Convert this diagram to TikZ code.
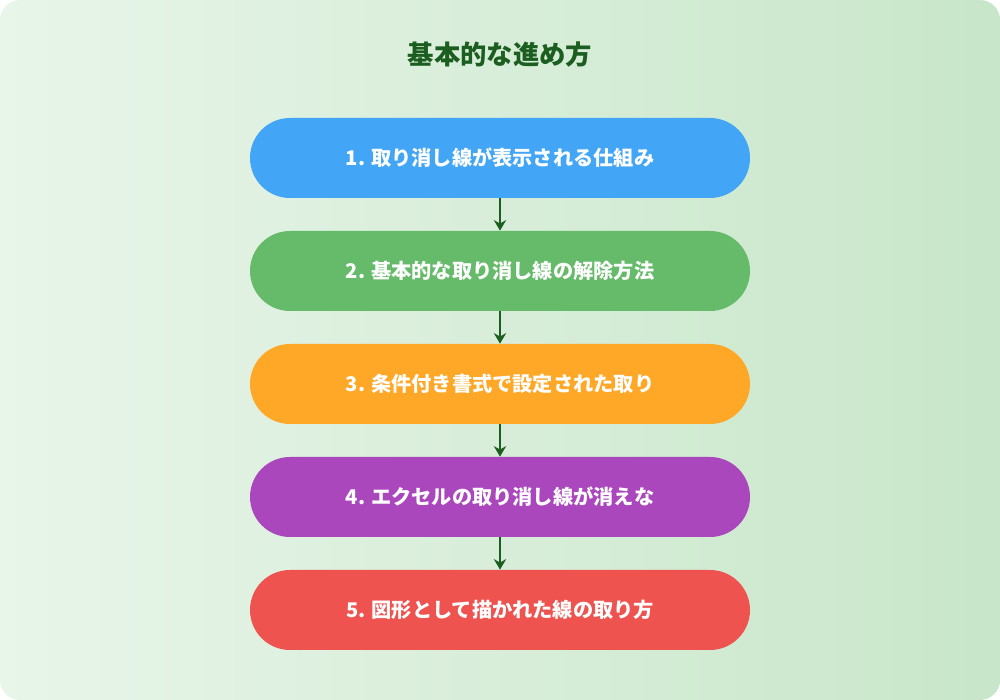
\documentclass[tikz,border=0pt]{standalone}
\usepackage{fontspec}
\setmainfont{Noto Sans CJK JP}
\usetikzlibrary{arrows.meta, positioning}
\definecolor{bgA}{HTML}{E8F5E9}
\definecolor{bgB}{HTML}{C8E6C9}
\definecolor{titlegreen}{HTML}{1B5E20}
\definecolor{stepA}{HTML}{42A5F5}
\definecolor{stepB}{HTML}{66BB6A}
\definecolor{stepC}{HTML}{FFA726}
\definecolor{stepD}{HTML}{AB47BC}
\definecolor{stepE}{HTML}{EF5350}

\begin{document}
\begin{tikzpicture}[
    stepbox/.style={rounded corners=0.8cm, minimum width=10cm, minimum height=1.6cm,
        text=white, font=\fontsize{11.5}{14}\selectfont\bfseries},
    flow/.style={-{Stealth[length=6pt,width=7pt]}, draw=titlegreen, line width=1.2pt}]
    \useasboundingbox (0, 0) rectangle (20, 14);
    \shade[rounded corners=0.4cm, shading angle=135, left color=bgA, right color=bgB]
        (0, 0) rectangle (20, 14);

    \node[text=titlegreen, font=\fontsize{15}{18}\selectfont\bfseries] (title) at (10, 12.9) {基本的な進め方};

    \node[stepbox, fill=stepA] (s1) at (10, 10.84) {1. 取り消し線が表示される仕組み};
    \node[stepbox, fill=stepB] (s2) at (10, 8.58) {2. 基本的な取り消し線の解除方法};
    \node[stepbox, fill=stepC] (s3) at (10, 6.32) {3. 条件付き書式で設定された取り};
    \node[stepbox, fill=stepD] (s4) at (10, 4.06) {4. エクセルの取り消し線が消えな};
    \node[stepbox, fill=stepE] (s5) at (10, 1.8) {5. 図形として描かれた線の取り方};

    \draw[flow] (s1) -- (s2);
    \draw[flow] (s2) -- (s3);
    \draw[flow] (s3) -- (s4);
    \draw[flow] (s4) -- (s5);
\end{tikzpicture}
\end{document}
